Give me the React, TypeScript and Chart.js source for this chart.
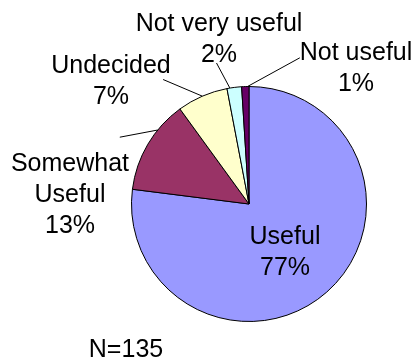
import React, { useEffect, useRef } from "react";
import { Chart, registerables } from "chart.js";

Chart.register(...registerables);

// ---- Data ----
const categories = ["Useful", "Somewhat Useful", "Undecided", "Not very useful", "Not useful"];
const nameLines = [["Useful"], ["Somewhat", "Useful"], ["Undecided"], ["Not very useful"], ["Not useful"]];
const values = [77, 13, 7, 2, 1];
const footnote = "N=135";

// ---- Styles / layout (not data) ----
const colors = ["#9999FF", "#993366", "#FFFFCC", "#CCFFFF", "#660066"];
const FONT = '25px Arial, "Liberation Sans", sans-serif';
const LINE_HEIGHT = 31;
// label offsets relative to pie centre; leader: fraction along slice + outer end offset
const labelLayout = [
  { dx: 36, dy: 40, leader: null },
  { dx: -179, dy: -33.5, leader: { at: 0.68, ex: -129.2, ey: -66.8 } },
  { dx: -138, dy: -131, leader: { at: 0.5, ex: -85.9, ey: -124.5 } },
  { dx: -30, dy: -173, leader: { at: 0.2, ex: -32.5, ey: -141 } },
  { dx: 107, dy: -144.5, leader: { at: 0.8, ex: 50.8, ey: -146.2 } },
];
const footnotePos = { x: 126, y: 356.5 };

const labelPlugin = {
  id: "sliceLabels",
  afterDatasetsDraw(chart: any) {
    const ctx = chart.ctx;
    const meta = chart.getDatasetMeta(0);
    ctx.save();
    ctx.font = FONT;
    ctx.fillStyle = "#000";
    ctx.strokeStyle = "#000";
    ctx.lineWidth = 1;
    ctx.textAlign = "center";
    ctx.textBaseline = "alphabetic";
    meta.data.forEach((arc: any, i: number) => {
      const { x, y, startAngle, endAngle, outerRadius } = arc.getProps(
        ["x", "y", "startAngle", "endAngle", "outerRadius"],
        true
      );
      const lay = labelLayout[i];
      if (lay.leader) {
        const a = startAngle + lay.leader.at * (endAngle - startAngle);
        ctx.beginPath();
        ctx.moveTo(x + outerRadius * Math.cos(a), y + outerRadius * Math.sin(a));
        ctx.lineTo(x + lay.leader.ex, y + lay.leader.ey);
        ctx.stroke();
      }
      const lines = [...nameLines[i], `${values[i]}%`];
      lines.forEach((t, k) => ctx.fillText(t, x + lay.dx, y + lay.dy + k * LINE_HEIGHT));
    });
    ctx.fillText(footnote, footnotePos.x, footnotePos.y);
    ctx.restore();
  },
};

export default function App() {
  const ref = useRef<HTMLCanvasElement | null>(null);
  useEffect(() => {
    if (!ref.current) return;
    const chart = new Chart(ref.current, {
      type: "pie",
      data: {
        labels: categories,
        datasets: [
          {
            data: values,
            backgroundColor: colors,
            borderColor: "#000000",
            borderWidth: 1,
            hoverOffset: 0,
          },
        ],
      },
      options: {
        responsive: false,
        animation: false,
        layout: { padding: { left: 131, right: 51, top: 86, bottom: 39 } },
        plugins: {
          legend: { display: false },
          tooltip: { enabled: false },
        },
      },
      plugins: [labelPlugin],
    });
    return () => chart.destroy();
  }, []);
  return (
    <div style={{ position: "fixed", left: 0, top: 0, width: 418, height: 361, background: "#fff" }}>
      <canvas ref={ref} width={418} height={361} style={{ display: "block" }} />
    </div>
  );
}
